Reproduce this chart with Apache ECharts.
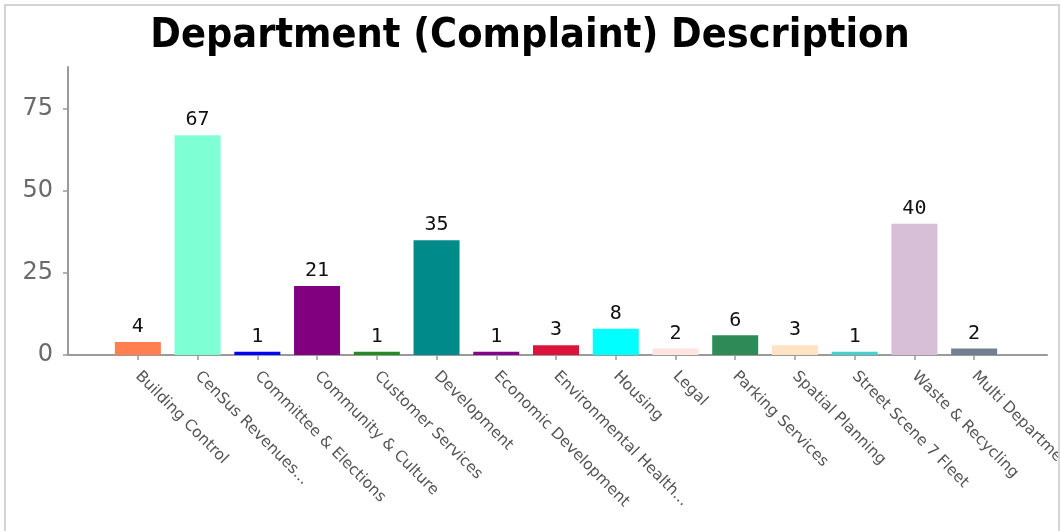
<!DOCTYPE html>
<html>
<head>
<meta charset="utf-8">
<title>Department (Complaint) Description</title>
<script src="https://cdn.jsdelivr.net/npm/echarts@6/dist/echarts.min.js"></script>
<style>
  html, body { margin: 0; padding: 0; background: #fff; }
  #chart { position: absolute; left: 0; top: 0; width: 1060px; height: 531px; }
  #frame {
    position: absolute; left: 4px; top: 4px; width: 1052px; height: 600px;
    border-left: 2px solid #d4d4d4; border-top: 2px solid #d4d4d4; border-right: 2px solid #d4d4d4;
    pointer-events: none;
  }
</style>
</head>
<body>
<div id="chart"></div>
<div id="frame"></div>
<script>
// Departments and complaint counts
const departments = [
  'Building Control', 'CenSus Revenues...', 'Committee & Elections', 'Community & Culture',
  'Customer Services', 'Development', 'Economic Development', 'Environmental Health...',
  'Housing', 'Legal', 'Parking Services', 'Spatial Planning', 'Street Scene 7 Fleet',
  'Waste & Recycling', 'Multi Department'
];
const complaints = [4, 67, 1, 21, 1, 35, 1, 3, 8, 2, 6, 3, 1, 40, 2];
const barColors = [
  '#FF7F50', '#7FFFD4', '#0000FF', '#800080', '#228B22', '#008B8B', '#8B008B', '#DC143C',
  '#00FFFF', '#FFE4E1', '#2E8B57', '#FFE4C4', '#48D1CC', '#D8BFD8', '#708090'
];
const yTicks = [0, 25, 50, 75];
const yMax = 87.8;

const axisGray = '#9a9a9a';
const chart = echarts.init(document.getElementById('chart'));

chart.setOption({
  animation: false,
  title: {
    text: 'Department (Complaint) Description',
    left: 'center',
    top: 11,
    textStyle: {
      fontFamily: '"Liberation Sans Narrow", "DejaVu Sans Condensed", sans-serif',
      fontWeight: 'bold',
      fontSize: 41,
      color: '#000'
    }
  },
  grid: [
    // outer frame carrying the value axis and the baseline
    { left: 68, right: 13, top: 67, bottom: 176, outerBoundsMode: 'none', containLabel: false },
    // inner band area where the bars sit
    { left: 108, right: 56, top: 67, bottom: 176, outerBoundsMode: 'none', containLabel: false }
  ],
  xAxis: [
    {
      gridIndex: 0, type: 'value', min: 0, max: 1,
      axisLine: { show: true, lineStyle: { color: axisGray, width: 2 } },
      axisTick: { show: false }, axisLabel: { show: false }, splitLine: { show: false }
    },
    {
      gridIndex: 1, type: 'category', data: departments,
      axisLine: { show: false },
      axisTick: { show: true, alignWithLabel: true, length: 5, lineStyle: { color: axisGray, width: 1.5 } },
      axisLabel: {
        interval: 0, rotate: -45, margin: 19,
        fontFamily: '"DejaVu Sans", Verdana, sans-serif', fontSize: 15.5, color: '#555'
      }
    }
  ],
  yAxis: [
    {
      gridIndex: 0, type: 'value', min: 0, max: yMax,
      axisLine: { show: true, lineStyle: { color: axisGray, width: 2 } },
      axisTick: { show: true, length: 5, customValues: yTicks, lineStyle: { color: axisGray, width: 1.5 } },
      axisLabel: {
        customValues: yTicks, margin: 15,
        fontFamily: '"DejaVu Sans", Verdana, sans-serif', fontSize: 24, color: '#6a6a6a'
      },
      splitLine: { show: false }
    },
    {
      gridIndex: 1, type: 'value', min: 0, max: yMax, show: false
    }
  ],
  series: [{
    type: 'bar',
    xAxisIndex: 1, yAxisIndex: 1,
    barWidth: 46,
    data: complaints.map((v, i) => ({ value: v, itemStyle: { color: barColors[i] } })),
    label: {
      show: true, position: 'top', distance: 5,
      fontFamily: '"DejaVu Sans Mono", monospace', fontSize: 20, color: '#111'
    }
  }]
});
</script>
</body>
</html>
